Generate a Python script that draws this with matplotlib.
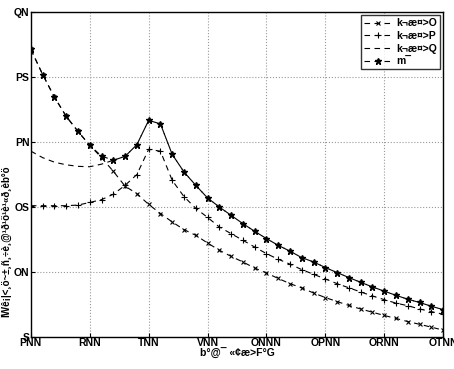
import matplotlib
matplotlib.use('Agg')
import matplotlib.pyplot as plt

x = list(range(200, 1601, 40))

# series 1 (x markers)
s1 = [27.13, 25.2, 23.46, 21.98, 20.82, 19.75, 18.8, 17.75, 16.6, 16.03,
      15.2, 14.5, 13.85, 13.26, 12.82, 12.23, 11.67, 11.2, 10.77, 10.3,
      9.92, 9.5, 9.1, 8.77, 8.38, 8.03, 7.72, 7.42, 7.15, 6.9,
      6.65, 6.42, 6.18, 5.97, 5.75, 5.52]
# series 2 (+ markers)
s2 = [15.1, 15.1, 15.1, 15.1, 15.15, 15.35, 15.57, 15.98, 16.67, 17.5,
      19.44, 19.3, 17.05, 15.8, 14.9, 14.2, 13.46, 12.95, 12.44, 11.92,
      11.41, 10.98, 10.6, 10.18, 9.82, 9.46, 9.1, 8.78, 8.46, 8.15,
      7.87, 7.6, 7.4, 7.15, 6.95, 6.74]
# series 4 (star markers)
s4 = [27.13, 25.2, 23.46, 21.98, 20.82, 19.75, 18.92, 18.6, 18.9, 19.8,
      21.67, 21.4, 19.05, 17.7, 16.67, 15.7, 15.0, 14.36, 13.72, 13.13,
      12.57, 12.05, 11.6, 11.1, 10.77, 10.34, 9.95, 9.57, 9.2, 8.85,
      8.52, 8.2, 7.9, 7.65, 7.36, 7.1]
# series 3 (plain dashed)
s3 = [19.3, 18.8, 18.45, 18.25, 18.13, 18.1, 18.3, 18.6] + s4[8:]

labels = ['k\u00ac\u00e6\u00a4>O', 'k\u00ac\u00e6\u00a4>P', 'k\u00ac\u00e6\u00a4>Q', 'm\u00af']
xticks = [200, 400, 600, 800, 1000, 1200, 1400, 1600]
xticklabels = ['PNN', 'RNN', 'TNN', 'VNN', 'ONNN', 'OPNN', 'ORNN', 'OTNN']
yticks = [5, 10, 15, 20, 25, 30]
yticklabels = ['S', 'ON', 'OS', 'PN', 'PS', 'QN']
ylabel = ('\u00cfW\u00ea\u00a1|<\u00b8\u00f6~\u00b1\u00b8\u00f1\u00b8\u00f7\u00e8'
          '\u00b8@\u00b9\u00f0\u00b9\u00f6\u00b9\u00e8\u00b9\u00ab\u00f0\u00b8'
          '\u00e8b\u00b0\u00f6')
xlabel = 'b\u00b0@\u00af \u00ab\u00a2\u00e6>F\u00b0G'

plt.rcParams['font.family'] = ['Liberation Sans', 'DejaVu Sans']
plt.rcParams['font.weight'] = 'bold'

fig = plt.figure(figsize=(4.54, 3.69), dpi=100)
ax = fig.add_axes([0.068, 0.087, 0.908, 0.88])

kw = dict(color='black', linestyle=(0, (5, 4)), linewidth=0.8)
ax.plot(x, s1, marker='x', markersize=3.5, markeredgewidth=0.8, label=labels[0], **kw)
ax.plot(x, s2, marker='+', markersize=5, markeredgewidth=0.8, label=labels[1], **kw)
ax.plot(x, s3, label=labels[2], **kw)
ax.plot(x, s4, marker='*', markersize=4.5, label=labels[3], **kw)

ax.set_xlim(200, 1600)
ax.set_ylim(5, 30)
ax.set_xticks(xticks)
ax.set_xticklabels(xticklabels, fontsize=7.5, fontweight='bold')
ax.set_yticks(yticks)
ax.set_yticklabels(yticklabels, fontsize=7.5, fontweight='bold')
ax.tick_params(direction='in', length=3, pad=1)
ax.grid(True, linestyle=':', color='#999999', linewidth=0.8)
for sp in ax.spines.values():
    sp.set_linewidth(1.0)

ax.set_xlabel(xlabel, fontsize=7.5, fontweight='bold', labelpad=0)
ax.set_ylabel(ylabel, fontsize=7, fontweight='bold')
ax.yaxis.set_label_coords(-0.042, 0.29)

leg = ax.legend(loc='upper right', fontsize=7.5, frameon=True, fancybox=False,
                edgecolor='black', borderpad=0.3, labelspacing=0.25,
                handlelength=2.8, handletextpad=0.3, borderaxespad=0.3)
leg.get_frame().set_linewidth(1.0)
for t in leg.get_texts():
    t.set_fontweight('bold')

fig.savefig('out.png', dpi=100)
